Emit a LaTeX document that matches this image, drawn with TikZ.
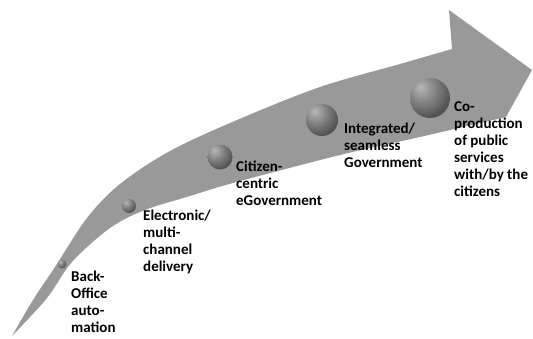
\documentclass[tikz,border=0pt]{standalone}
\usepackage{fontspec}
\setmainfont{Carlito}
\pgfdeclareradialshading{mattesphere}{\pgfpoint{-12bp}{14bp}}{color(0bp)=(black!28); color(18bp)=(black!50); color(34bp)=(black!68); color(60bp)=(black!80); color(100bp)=(black!80)}
\begin{document}
\begin{tikzpicture}[x=1pt,y=-1pt,
  arrowfill/.style={fill=black!40},
  sphere/.style={circle,inner sep=0pt,shading=mattesphere},
  lbl/.style={anchor=north west,inner sep=0pt,align=left,font=\fontsize{15}{17}\selectfont\bfseries,text=black}]
\useasboundingbox (0,0) rectangle (533,338);
% curved arrow
\fill[arrowfill]
  plot[smooth,tension=0.55] coordinates {(12,336) (33,300) (55,267) (87,218) (120,184) (170,151) (237,120) (320,87) (400,64) (452,49)}
  -- (449,10) -- (532,70) -- (506,117)
  -- plot[smooth,tension=0.55] coordinates {(506,117) (420,137) (340,155) (233,183) (190,196) (145,210) (110,228) (72,262) (47,298) (12,336)}
  -- cycle;
% spheres
\node[sphere,minimum size=9pt]  (s1) at (62,264) {};
\node[sphere,minimum size=14pt] (s2) at (129,206) {};
\node[sphere,minimum size=25pt] (s3) at (220,157) {};
\node[sphere,minimum size=32pt] (s4) at (322,120) {};
\node[sphere,minimum size=40pt] (s5) at (430,98) {};
% labels
\node[lbl] (l1) at (71,271) {Back-\\Office\\auto-\\mation};
\node[lbl] (l2) at (143,210) {Electronic/\\multi-\\channel\\delivery};
\node[lbl] (l3) at (236,161) {Citizen-\\centric\\eGovernment};
\node[lbl] (l4) at (344,123) {Integrated/\\seamless\\Government};
\node[lbl] (l5) at (454,101) {Co-\\production\\of public\\services\\with/by the\\citizens};
\end{tikzpicture}
\end{document}
